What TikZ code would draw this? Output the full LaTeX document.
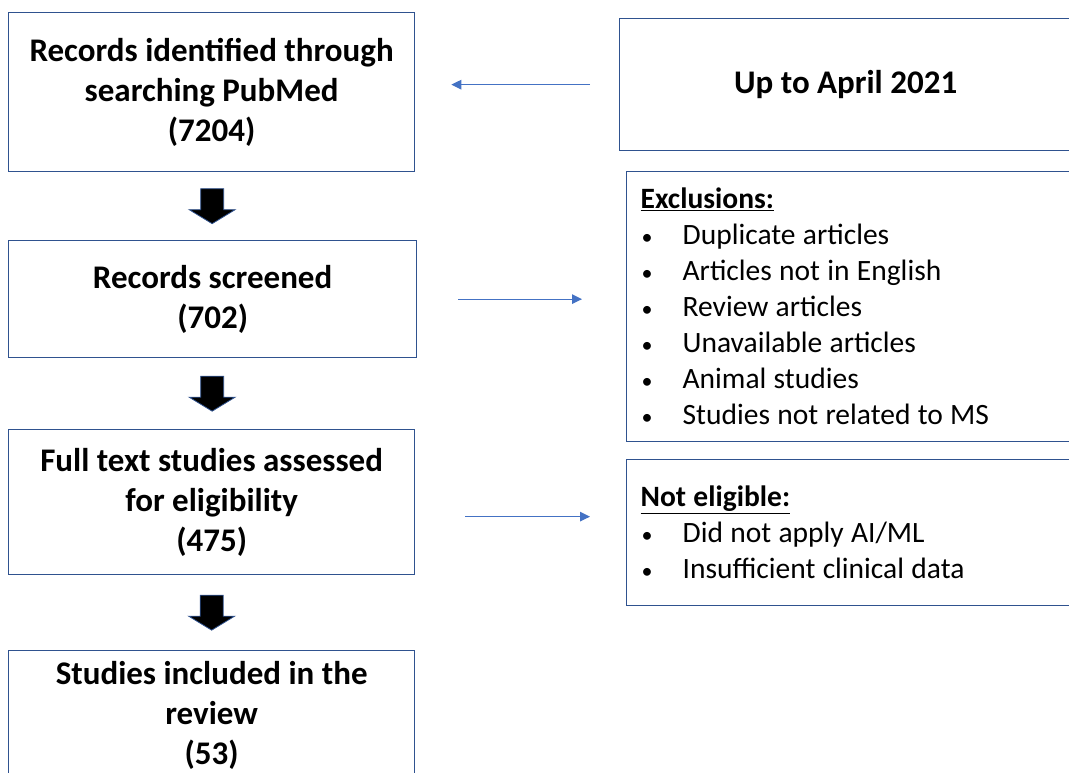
\documentclass[tikz,border=0pt]{standalone}
\usepackage{fontspec}
\setmainfont{Carlito}
\usetikzlibrary{arrows.meta,calc}
\definecolor{boxblue}{RGB}{47,82,143}
\definecolor{linkblue}{RGB}{68,114,196}
\newcommand{\tightspace}{\spaceskip=7.3pt\relax}
\newcommand{\itm}[1]{\makebox[42pt][l]{\hspace{1pt}{\fontsize{22}{22}\selectfont•}}#1}
\begin{document}
\begin{tikzpicture}[x=1pt,y=-1pt,
  stagebox/.style={draw=boxblue,line width=1.3pt,rectangle,inner sep=0pt,
    align=center,anchor=north west,font=\fontsize{33}{40}\selectfont\bfseries},
  listbox/.style={draw=boxblue,line width=1.3pt,rectangle,inner xsep=14pt,inner ysep=0pt,
    align=left,anchor=north west,text width=432pt,
    font=\fontsize{29.5}{36}\selectfont},
  sidearrow/.style={draw=linkblue,line width=1.2pt,-{Triangle[length=10pt,width=9.5pt]}},
  blockarrow/.style={fill=black,draw=boxblue,line width=0.8pt,line join=miter}]
\useasboundingbox (0,0) rectangle (1069,772);
\clip (0,0) rectangle (1069,772);

% main flow
\node[stagebox,minimum width=406pt,minimum height=159pt] (b1) at (8,12)
  {Records identified through\\searching PubMed\\(7204)};
\node[stagebox,minimum width=408pt,minimum height=117pt] (b2) at (8,240)
  {Records screened\\(702)};
\node[stagebox,minimum width=406pt,minimum height=145pt] (b3) at (8,429)
  {Full text studies assessed\\for eligibility\\(475)};
\node[stagebox,minimum width=406pt,minimum height=130pt] (b4) at (8,650)
  {Studies included in the\\review\\(53)};

% side boxes
\node[stagebox,minimum width=452pt,minimum height=132pt] (up) at (619,18)
  {Up to April 2021};
\node[listbox,minimum height=270pt] (ex) at (626,171)
  {\tightspace\underline{\textbf{Exclusions:}}\\
   \itm{Duplicate articles}\\
   \itm{Articles not in English}\\
   \itm{Review articles}\\
   \itm{Unavailable articles}\\
   \itm{Animal studies}\\
   \itm{Studies not related to MS}};
\node[listbox,minimum height=146pt] (ne) at (626,459)
  {\tightspace\underline{\textbf{Not eligible:}}\\
   \itm{Did not apply AI/ML}\\
   \itm{Insufficient clinical data}};

% block arrows between stages
\foreach \a/\b/\n in {b1/b2/d1,b2/b3/d2,b3/b4/d3}{
  \coordinate (\n) at ($(\a.south)!0.5!(\b.north)$);
  \draw[blockarrow] ($(\n)+(-11.5,-17.5)$) -- ++(23,0) -- ++(0,21) -- ++(11.5,0)
    -- ++(-23,14) -- ++(-23,-14) -- ++(11.5,0) -- cycle;
}

% thin side arrows
\coordinate (s1) at ($(up.west)+(-29,0)$);
\coordinate (e1) at ($(b1.east |- s1)+(36,0)$);
\draw[sidearrow] (s1) -- (e1);
\coordinate (s2) at ($(b2.east)+(41,0)$);
\coordinate (e2) at ($(ex.west |- s2)+(-44,0)$);
\draw[sidearrow] (s2) -- (e2);
\coordinate (s3) at ($(b3.east)+(50,14.5)$);
\coordinate (e3) at ($(ne.west |- s3)+(-36,0)$);
\draw[sidearrow] (s3) -- (e3);
\end{tikzpicture}
\end{document}
